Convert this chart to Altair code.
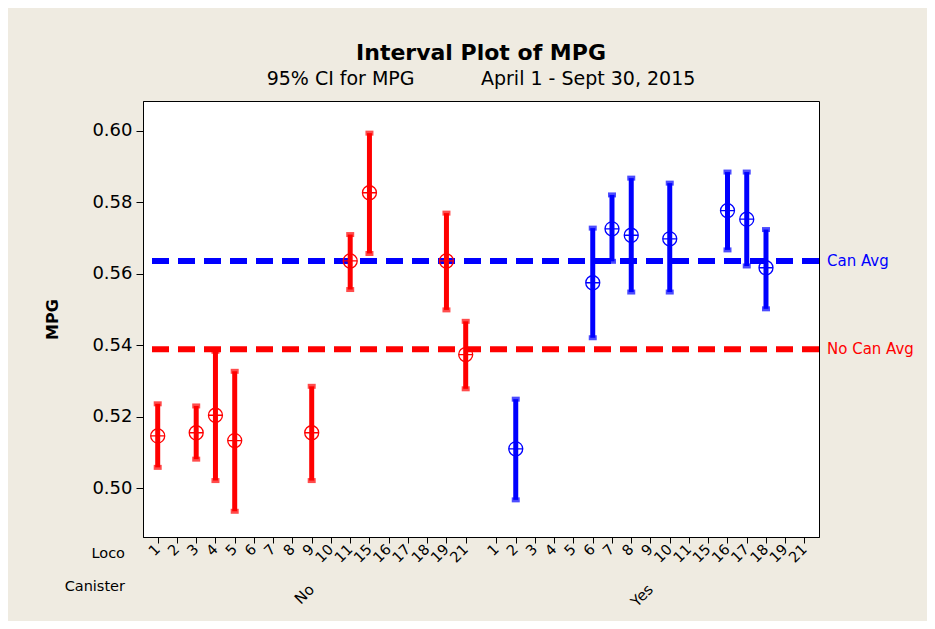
import altair as alt
import pandas as pd

# Axis categories
locos = ["1", "2", "3", "4", "5", "6", "7", "8", "9", "10", "11", "15", "16", "17", "18", "19", "21"]
canisters = ["No", "Yes"]

obs_canister = ["No"] * 9 + ["Yes"] * 8
obs_loco = ["1", "3", "4", "5", "9", "11", "15", "19", "21",
            "2", "6", "7", "8", "10", "16", "17", "18"]
obs_mean = [0.5146, 0.5155, 0.5204, 0.5133, 0.5155, 0.5636, 0.5827, 0.5636, 0.5374,
            0.5110, 0.5575, 0.5726, 0.5708, 0.5698, 0.5777, 0.5753, 0.5617]
obs_lo = [0.5058, 0.5081, 0.5021, 0.4935, 0.5021, 0.5556, 0.5657, 0.5499, 0.5278,
          0.4967, 0.5421, 0.5635, 0.5549, 0.5549, 0.5667, 0.5622, 0.5502]
obs_hi = [0.5236, 0.5230, 0.5383, 0.5327, 0.5285, 0.5710, 0.5994, 0.5770, 0.5467,
          0.5249, 0.5728, 0.5821, 0.5868, 0.5854, 0.5885, 0.5885, 0.5724]

avg_labels = ["Can Avg", "No Can Avg"]
avg_group = ["Yes", "No"]
avg_values = [0.5636, 0.5389]

GROUP_OFFSET = {"No": 0, "Yes": 88}
STEP = 5


def pos(c, l):
    return GROUP_OFFSET[c] + STEP * locos.index(l)


tick_pos = [pos(c, l) for c in canisters for l in locos]
tick_lab = [l for c in canisters for l in locos]

df = pd.DataFrame({"canister": obs_canister, "loco": obs_loco,
                   "mean": obs_mean, "lo": obs_lo, "hi": obs_hi})
df["pos"] = [pos(c, l) for c, l in zip(df.canister, df.loco)]

avg_df = pd.DataFrame({"label": avg_labels, "canister": avg_group, "value": avg_values})

grp_df = pd.DataFrame({"canister": canisters,
                       "center": [sum(pos(c, l) for l in locos) / len(locos) for c in canisters]})

row_df = pd.DataFrame({"t": ["Loco", "Canister"], "yy": [453, 486]})

FONT = "DejaVu Sans"
W, H = 676, 436

label_expr = "[" + ",".join("'%s'" % t for t in tick_lab) + "][indexof([" + \
    ",".join(str(p) for p in tick_pos) + "], datum.value)]"

color = alt.Color("canister:N", scale=alt.Scale(domain=["No", "Yes"], range=["#FF0000", "#0000FF"]),
                  legend=None)

x_enc = alt.X("pos:Q", scale=alt.Scale(domain=[-3.82, 171.77], nice=False, zero=False),
              axis=alt.Axis(values=tick_pos, tickCount=len(tick_pos) + 6, labelExpr=label_expr,
                            labelAngle=-45, labelAlign="right", labelBaseline="middle",
                            labelFontSize=14.5, labelPadding=4, tickSize=6, labelOverlap=False,
                            labelBound=False, labelFlush=False, grid=False, title=None))
y_scale = alt.Scale(domain=[0.4863, 0.6084], nice=False, zero=False)
y_axis = alt.Axis(values=[0.50, 0.52, 0.54, 0.56, 0.58, 0.60], format=".2f", labelFontSize=18,
                  tickSize=7, labelPadding=4, grid=False, title="MPG", titleFontSize=16,
                  titleFontWeight="bold", titlePadding=31)

base = alt.Chart(df)

avg_rules = alt.Chart(avg_df).mark_rule(strokeWidth=6, strokeDash=[17, 9]).encode(
    y=alt.Y("value:Q", scale=y_scale, axis=y_axis), color=color)
avg_text = alt.Chart(avg_df).mark_text(align="left", baseline="middle", dx=8, fontSize=15).encode(
    x=alt.value(W), y=alt.Y("value:Q"), text="label:N", color=color)

bars = base.mark_rule(strokeWidth=5).encode(x=x_enc, y=alt.Y("lo:Q"), y2="hi:Q", color=color)
cap_lo = base.mark_tick(orient="horizontal", size=8, thickness=5).encode(
    x="pos:Q", y="lo:Q", color=color)
cap_hi = base.mark_tick(orient="horizontal", size=8, thickness=5).encode(
    x="pos:Q", y="hi:Q", color=color)
circle_plus = "M-1,0A1,1,0,1,1,1,0A1,1,0,1,1,-1,0ZM-1,0L1,0M0,-1L0,1"
points = base.mark_point(shape=circle_plus, size=196, filled=False, strokeWidth=1.3, opacity=1).encode(
    x="pos:Q", y="mean:Q", color=color)

grp_text = alt.Chart(grp_df).mark_text(angle=315, align="right", baseline="middle", fontSize=15,
                                       color="black").encode(
    x="center:Q", y=alt.value(H + 50), text="canister:N")
row_text = alt.Chart(row_df).mark_text(align="right", baseline="middle", fontSize=14.5,
                                       color="black").encode(
    x=alt.value(-18), y=alt.Y("yy:Q", scale=None), text="t:N")

chart = alt.layer(avg_rules, bars, cap_lo, cap_hi, points, avg_text, grp_text, row_text).properties(
    width=W, height=H,
    title=alt.TitleParams("Interval Plot of MPG",
                          subtitle="95% CI for MPG" + "\u00a0" * 11 + "April 1 - Sept 30, 2015",
                          fontSize=22, fontWeight="bold", subtitleFontSize=19, anchor="middle",
                          frame="group", offset=11, subtitlePadding=5, color="black",
                          subtitleColor="black", font=FONT, subtitleFont=FONT),
    autosize=alt.AutoSizeParams(type="none"),
    padding={"left": 135, "top": 93, "right": 108, "bottom": 84},
    background="#EFEBE1",
).configure(font=FONT).configure_view(
    stroke="black", strokeWidth=1, fill="white"
).configure_axis(
    domainColor="black", tickColor="black", labelColor="black", titleColor="black",
    labelFont=FONT, titleFont=FONT
).configure_text(font=FONT)

chart.save("out.html", embed_options={"renderer": "svg", "actions": False})
